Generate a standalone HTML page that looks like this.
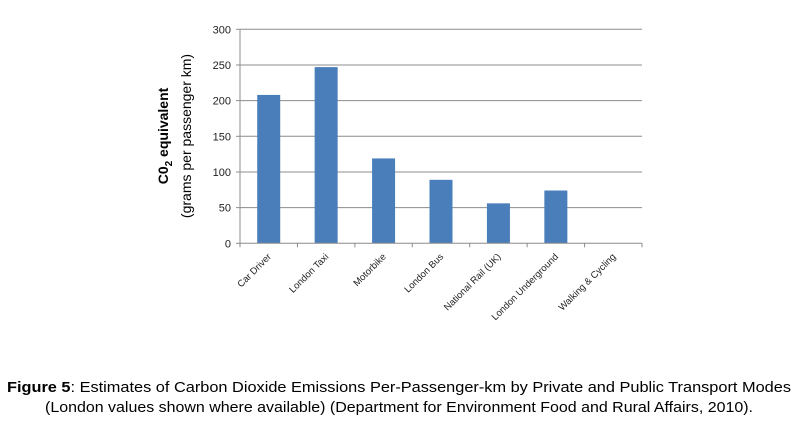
<!DOCTYPE html>
<html><head><meta charset="utf-8"><style>
html,body{margin:0;padding:0;background:#fff;}
svg{display:block;font-family:"Liberation Sans",sans-serif;}
</style></head><body>
<svg id="chart" width="800" height="425" viewBox="0 0 800 425">
<g id="grid"></g>
<g id="bars"></g>
<g id="axes"></g>
<g id="ylabels"></g>
<g id="xlabels"></g>
<text transform="translate(168,136) rotate(-90)" text-anchor="middle" font-size="14" font-weight="bold" fill="#000">C0<tspan font-size="10" dy="4">2</tspan><tspan dy="-4"> equivalent</tspan></text>
<text transform="translate(191,136) rotate(-90)" text-anchor="middle" font-size="14" fill="#000">(grams per passenger km)</text>
<text x="7" y="392" font-size="15" textLength="784" lengthAdjust="spacingAndGlyphs" fill="#000"><tspan font-weight="bold">Figure 5</tspan>: Estimates of Carbon Dioxide Emissions Per-Passenger-km by Private and Public Transport Modes</text>
<text x="45" y="412" font-size="15" textLength="708" lengthAdjust="spacingAndGlyphs" fill="#000">(London values shown where available) (Department for Environment Food and Rural Affairs, 2010).</text>
</svg>
<script>
const categories=["Car Driver","London Taxi","Motorbike","London Bus","National Rail (UK)","London Underground","Walking & Cycling"];
const values=[208,247,119,89,56,74,0];
const yTicks=[0,50,100,150,200,250,300];
const NS="http://www.w3.org/2000/svg";
const x0=240,x1=642,y0=243.3,yTop=29.3,yMax=300;
const bw=(x1-x0)/categories.length;
function ys(v){return y0-(v/yMax)*(y0-yTop);}
function xs(i){return x0+bw*i;}
function mk(tag,attrs,parent){const e=document.createElementNS(NS,tag);for(const k in attrs)e.setAttribute(k,attrs[k]);parent.appendChild(e);return e;}
const grid=document.getElementById('grid'),bars=document.getElementById('bars'),axes=document.getElementById('axes'),yl=document.getElementById('ylabels'),xl=document.getElementById('xlabels');
yTicks.forEach(t=>{
  if(t>0){const g=mk('line',{x1:x0,x2:x1,y1:ys(t),y2:ys(t),stroke:'#8c8c8c','stroke-width':1},grid);
  
  }
  const tk=mk('line',{x1:x0-4,x2:x0,y1:ys(t),y2:ys(t),stroke:'#8c8c8c'},axes);
  
  
  const tx=mk('text',{x:x0-9,y:ys(t)+4,'text-anchor':'end','font-size':11,fill:'#222'},yl);
  tx.textContent=t;
  
  
});
const ya=mk('line',{x1:x0,x2:x0,y1:yTop,y2:y0,stroke:'#8c8c8c'},axes);


const xa=mk('line',{x1:x0,x2:x1,y1:y0,y2:y0,stroke:'#8c8c8c'},axes);


for(let i=0;i<=categories.length;i++){
  const t=mk('line',{x1:xs(i),x2:xs(i),y1:y0,y2:y0+4,stroke:'#8c8c8c'},axes);
  
  
}
const barW=23;
categories.forEach((c,i)=>{
  const cx=xs(i)+bw/2;
  const v=values[i];
  if(v>0){const r=mk('rect',{x:cx-barW/2,y:ys(v),width:barW,height:y0-ys(v),fill:'#4a7ebb'},bars);
  
  }
  const tx=mk('text',{transform:`translate(${cx+3},${y0+14}) rotate(-45)`,'text-anchor':'end','font-size':9.5,fill:'#222'},xl);
  tx.textContent=c;
  
  
});
</script>
</body></html>
